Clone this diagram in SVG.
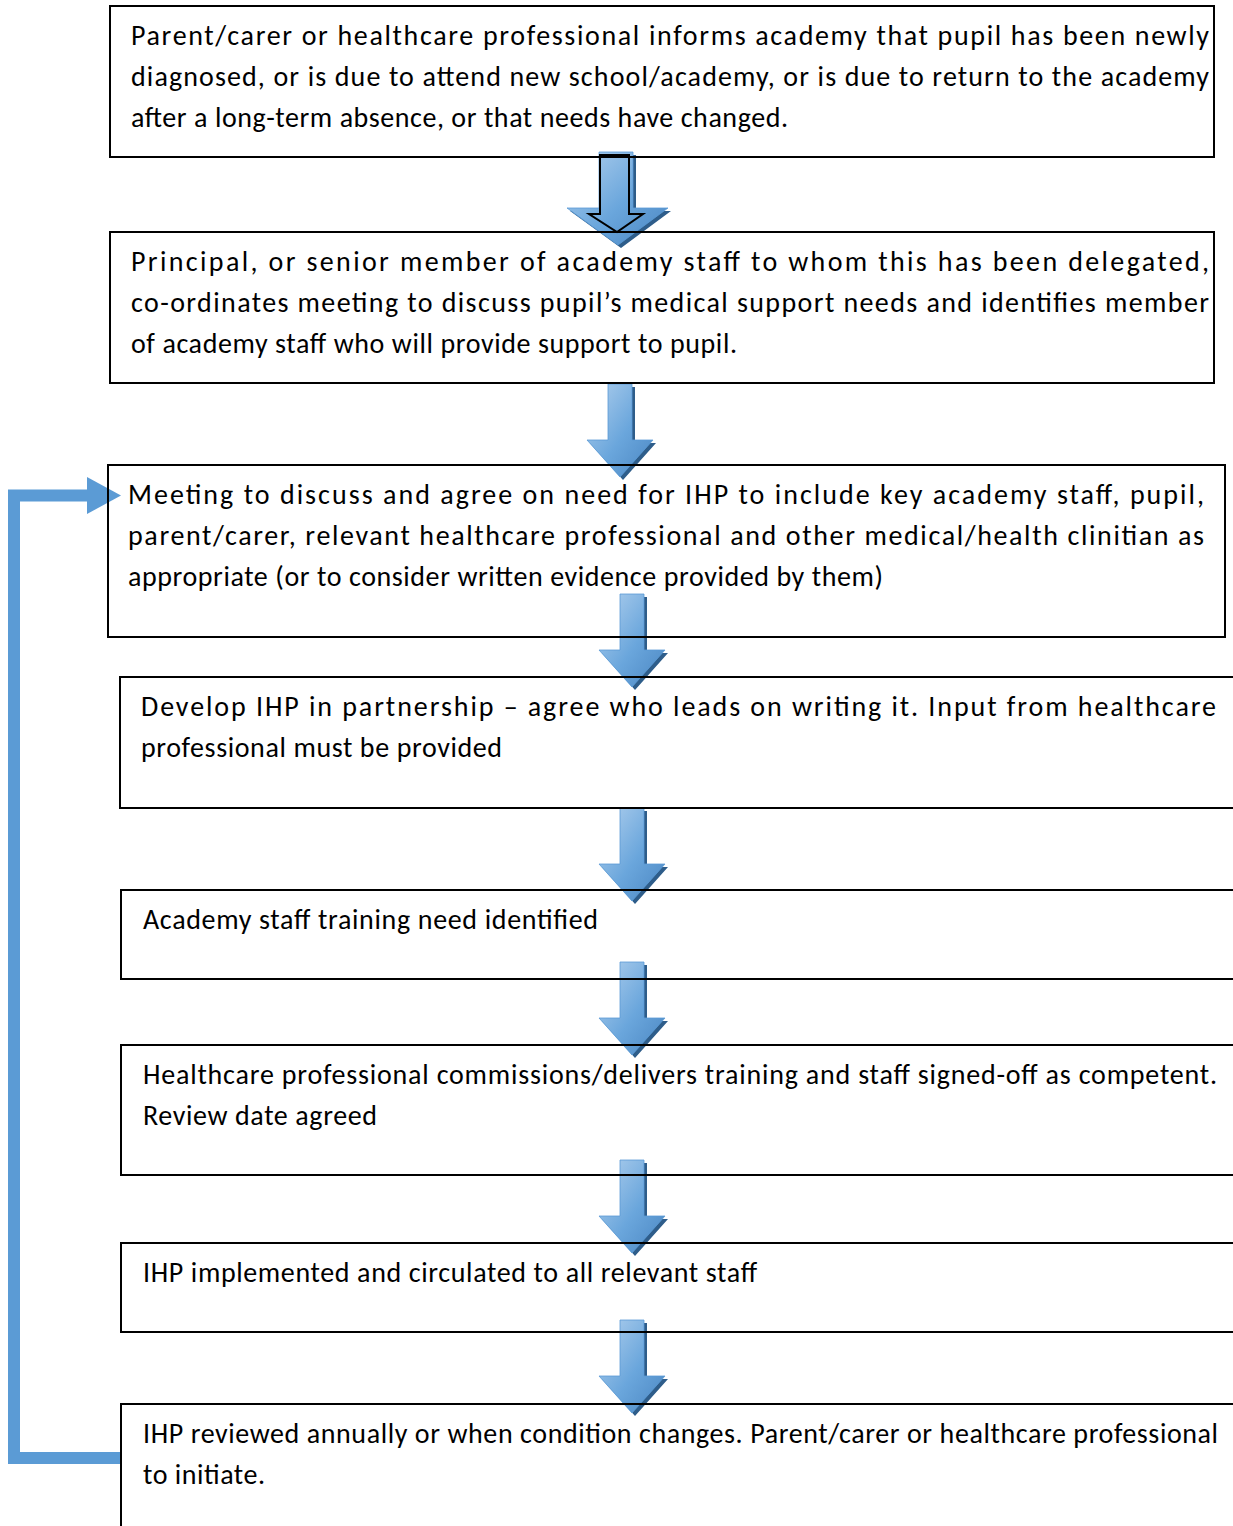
<svg xmlns="http://www.w3.org/2000/svg" xmlns:xlink="http://www.w3.org/1999/xlink" width="1233" height="1526" viewBox="0 0 1233 1526">
<style>
.box{fill:none;stroke:#000;stroke-width:2}
.t{font-family:Carlito,Lato,"Open Sans",sans-serif;font-size:28px;fill:#000}
.sh{fill:#2E5D8A}
.ar{fill:url(#g);stroke:#5B9BD5;stroke-width:0.8}
</style>
<defs>
<linearGradient id="g" x1="0" y1="0" x2="1" y2="1">
<stop offset="0" stop-color="#B3D1EE"/>
<stop offset="0.55" stop-color="#6AA6DC"/>
<stop offset="1" stop-color="#4A86C2"/>
</linearGradient>
<path id="arr" d="M-12,0 H12 V56 H33 L0,93 L-33,56 H-12 Z"/>
</defs>
<rect width="1233" height="1526" fill="#fff"/>
<g id="connectors">
<path class="sh" d="M602,155 H636 V211 H671 L621,248 L570,211 H602 Z"/>
<path class="ar" d="M599,152 H633 V208 H668 L618,245 L567,208 H599 Z"/>
<path d="M600,155 H629 V214 H643 L617,232 L589,214 H600 Z" fill="none" stroke="#000" stroke-width="2"/>
<use href="#arr" class="sh" x="623" y="387"/>
<use href="#arr" class="ar" x="620" y="384"/>
<use href="#arr" class="sh" x="635" y="597"/>
<use href="#arr" class="ar" x="632" y="594"/>
<use href="#arr" class="sh" x="635" y="811"/>
<use href="#arr" class="ar" x="632" y="808"/>
<use href="#arr" class="sh" x="635" y="965"/>
<use href="#arr" class="ar" x="632" y="962"/>
<use href="#arr" class="sh" x="635" y="1163"/>
<use href="#arr" class="ar" x="632" y="1160"/>
<use href="#arr" class="sh" x="635" y="1323"/>
<use href="#arr" class="ar" x="632" y="1320"/>
<path d="M121,1458 H14 V495.5 H90" fill="none" stroke="#5B9BD5" stroke-width="12"/>
<polygon points="87,477 121,495.5 87,514" fill="#5B9BD5"/>
</g>
<g id="node1">
<rect class="box" x="110" y="6" width="1104" height="151"/>
<text class="t" x="131" y="45" textLength="1078" lengthAdjust="spacing">Parent/carer or healthcare professional informs academy that pupil has been newly</text>
<text class="t" x="131" y="86" textLength="1078" lengthAdjust="spacing">diagnosed, or is due to attend new school/academy, or is due to return to the academy</text>
<text class="t" x="131" y="127" textLength="657" lengthAdjust="spacing">after a long-term absence, or that needs have changed.</text>
</g>
<g id="node2">
<rect class="box" x="110" y="232" width="1104" height="151"/>
<text class="t" x="131" y="271" textLength="1078" lengthAdjust="spacing">Principal, or senior member of academy staff to whom this has been delegated,</text>
<text class="t" x="131" y="312" textLength="1078" lengthAdjust="spacing">co-ordinates meeting to discuss pupil’s medical support needs and identifies member</text>
<text class="t" x="131" y="353" textLength="606" lengthAdjust="spacing">of academy staff who will provide support to pupil.</text>
</g>
<g id="node3">
<rect class="box" x="108" y="465" width="1117" height="172"/>
<text class="t" x="128" y="504" textLength="1076" lengthAdjust="spacing">Meeting to discuss and agree on need for IHP to include key academy staff, pupil,</text>
<text class="t" x="128" y="545" textLength="1076" lengthAdjust="spacing">parent/carer, relevant healthcare professional and other medical/health clinitian as</text>
<text class="t" x="128" y="586" textLength="755" lengthAdjust="spacing">appropriate (or to consider written evidence provided by them)</text>
</g>
<g id="node4">
<rect class="box" x="120" y="677" width="1130" height="131"/>
<text class="t" x="141" y="716" textLength="1075" lengthAdjust="spacing">Develop IHP in partnership – agree who leads on writing it. Input from healthcare</text>
<text class="t" x="141" y="757" textLength="361" lengthAdjust="spacing">professional must be provided</text>
</g>
<g id="node5">
<rect class="box" x="121" y="890" width="1130" height="89"/>
<text class="t" x="143" y="929" textLength="455" lengthAdjust="spacing">Academy staff training need identified</text>
</g>
<g id="node6">
<rect class="box" x="121" y="1045" width="1130" height="130"/>
<text class="t" x="143" y="1084" textLength="1074" lengthAdjust="spacing">Healthcare professional commissions/delivers training and staff signed-off as competent.</text>
<text class="t" x="143" y="1125" textLength="234" lengthAdjust="spacing">Review date agreed</text>
</g>
<g id="node7">
<rect class="box" x="121" y="1243" width="1130" height="89"/>
<text class="t" x="143" y="1282" textLength="614" lengthAdjust="spacing">IHP implemented and circulated to all relevant staff</text>
</g>
<g id="node8">
<rect class="box" x="121" y="1404" width="1130" height="140"/>
<text class="t" x="143" y="1443" textLength="1075" lengthAdjust="spacing">IHP reviewed annually or when condition changes. Parent/carer or healthcare professional</text>
<text class="t" x="143" y="1484" textLength="122" lengthAdjust="spacing">to initiate.</text>
</g>
</svg>
